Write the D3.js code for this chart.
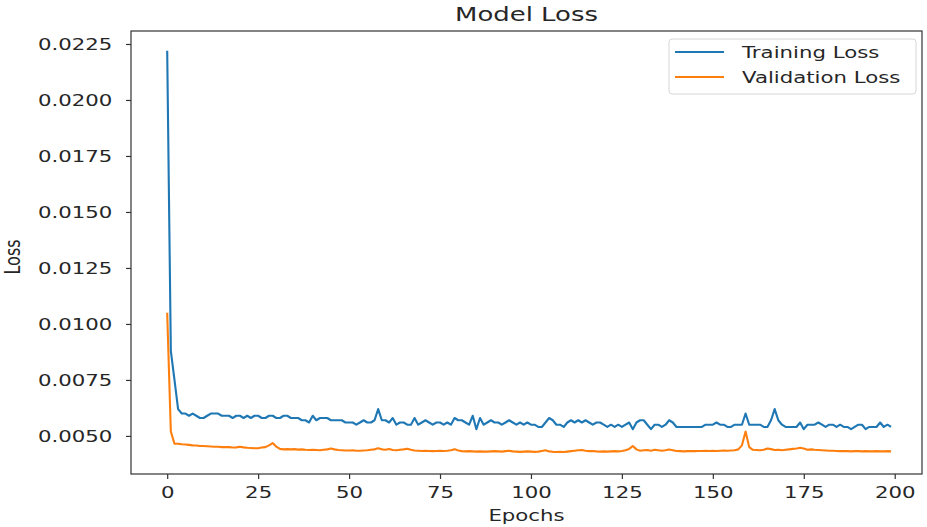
<!DOCTYPE html>
<html>
<head>
<meta charset="utf-8">
<script src="https://cdn.jsdelivr.net/npm/d3@7"></script>
<style>
  body { margin: 0; background: #fff; }
  text { font-family: "DejaVu Sans", sans-serif; fill: #262626; }
</style>
</head>
<body>
<div id="chart"></div>
<script>
// loss per epoch
var trainLoss = [
  0.0222, 0.0088, 0.0075, 0.0062, 0.0060, 0.0060, 0.0059, 0.0060, 0.0059, 0.0058,
  0.0058, 0.0059, 0.0060, 0.0060, 0.0060, 0.0059, 0.0059, 0.0059, 0.0058, 0.0059,
  0.0059, 0.0058, 0.0059, 0.0058, 0.0059, 0.0059, 0.0058, 0.0058, 0.0059, 0.0059,
  0.0058, 0.0058, 0.0059, 0.0059, 0.0058, 0.0058, 0.0058, 0.0057, 0.0057, 0.0056,
  0.0059, 0.0057, 0.0058, 0.0058, 0.0058, 0.0057, 0.0057, 0.0057, 0.0057, 0.0056,
  0.0056, 0.0056, 0.0055, 0.0056, 0.0057, 0.0056, 0.0056, 0.0057, 0.0062, 0.0057,
  0.0057, 0.0056, 0.0058, 0.0055, 0.0056, 0.0056, 0.0055, 0.0055, 0.0058, 0.0055,
  0.0056, 0.0057, 0.0056, 0.0055, 0.0056, 0.0056, 0.0055, 0.0056, 0.0055, 0.0058,
  0.0057, 0.0057, 0.0056, 0.0055, 0.0059, 0.0053, 0.0058, 0.0055, 0.0056, 0.0057,
  0.0056, 0.0056, 0.0055, 0.0056, 0.0057, 0.0056, 0.0055, 0.0056, 0.0055, 0.0056,
  0.0055, 0.0055, 0.0054, 0.0054, 0.0056, 0.0058, 0.0057, 0.0055, 0.0055, 0.0054,
  0.0056, 0.0057, 0.0056, 0.0057, 0.0056, 0.0057, 0.0056, 0.0055, 0.0056, 0.0056,
  0.0055, 0.0054, 0.0055, 0.0054, 0.0055, 0.0054, 0.0055, 0.0056, 0.0053, 0.0056,
  0.0057, 0.0057, 0.0055, 0.0053, 0.0055, 0.0055, 0.0054, 0.0055, 0.0057, 0.0056,
  0.0054, 0.0054, 0.0054, 0.0054, 0.0054, 0.0054, 0.0054, 0.0054, 0.0055, 0.0055,
  0.0055, 0.0056, 0.0055, 0.0055, 0.0054, 0.0054, 0.0055, 0.0055, 0.0055, 0.0060,
  0.0055, 0.0055, 0.0055, 0.0055, 0.0054, 0.0054, 0.0057, 0.0062, 0.0057, 0.0055,
  0.0054, 0.0054, 0.0054, 0.0054, 0.0056, 0.0053, 0.0055, 0.0055, 0.0055, 0.0056,
  0.0055, 0.0054, 0.0055, 0.0055, 0.0054, 0.0055, 0.0054, 0.0054, 0.0053, 0.0054,
  0.0055, 0.0055, 0.0053, 0.0054, 0.0054, 0.0054, 0.0056, 0.0054, 0.0055, 0.0054
];
var valLoss = [
  0.0105, 0.0052, 0.00465, 0.00465, 0.00463, 0.00462, 0.0046, 0.00458, 0.00457, 0.00455,
  0.00455, 0.00454, 0.00453, 0.00452, 0.00452, 0.0045, 0.0045, 0.0045, 0.00448, 0.00449,
  0.00452, 0.00449, 0.00447, 0.00446, 0.00445, 0.00445, 0.00448, 0.0045, 0.00458, 0.00468,
  0.00452, 0.00442, 0.0044, 0.00441, 0.0044, 0.00441, 0.00439, 0.0044, 0.00438, 0.00437,
  0.00438, 0.00437, 0.00436, 0.00438, 0.0044, 0.00444, 0.0044, 0.00437, 0.00436, 0.00435,
  0.00435, 0.00436, 0.00434, 0.00434, 0.00435, 0.00436, 0.00438, 0.0044, 0.00445, 0.0044,
  0.00438, 0.00442, 0.00437, 0.00436, 0.00438, 0.0044, 0.00443, 0.00438, 0.00435, 0.00434,
  0.00433, 0.00434, 0.00433, 0.00432, 0.00433, 0.00434, 0.00433, 0.00434, 0.00436, 0.00441,
  0.00435, 0.00432, 0.00431, 0.00432, 0.00431, 0.0043, 0.00431, 0.0043, 0.0043, 0.00431,
  0.00432, 0.00431, 0.0043, 0.00432, 0.00434, 0.00431, 0.0043, 0.00429, 0.0043, 0.00431,
  0.0043, 0.00429, 0.0043, 0.00433, 0.00436, 0.00431, 0.00429, 0.00428, 0.00429, 0.00428,
  0.0043, 0.00432, 0.00434, 0.00436, 0.00437, 0.00434, 0.00432, 0.00433, 0.00431, 0.0043,
  0.00431, 0.0043, 0.00431, 0.00432, 0.00431, 0.00433, 0.00436, 0.00442, 0.00455, 0.0044,
  0.00434, 0.00436, 0.00437, 0.00434, 0.00438, 0.00436, 0.00434, 0.00436, 0.00439, 0.00436,
  0.00433, 0.00432, 0.00431, 0.00432, 0.00433, 0.00432, 0.00433, 0.00433, 0.00434, 0.00433,
  0.00434, 0.00433, 0.00434, 0.00435, 0.00434, 0.00435, 0.00436, 0.0044, 0.00458, 0.0052,
  0.0045, 0.00438, 0.00437, 0.00436, 0.00438, 0.00444, 0.00441, 0.00437, 0.00438, 0.00436,
  0.00438, 0.0044, 0.00442, 0.00444, 0.00447, 0.00444, 0.00438, 0.0044, 0.00438, 0.00437,
  0.00436, 0.00435, 0.00434, 0.00434, 0.00433, 0.00432, 0.00433, 0.00432, 0.00431, 0.00432,
  0.00432, 0.00431, 0.00432, 0.00431, 0.00431, 0.00432, 0.00431, 0.00431, 0.00432, 0.00431
];
var xTicks = [0, 25, 50, 75, 100, 125, 150, 175, 200];
var yTicks = [0.0050, 0.0075, 0.0100, 0.0125, 0.0150, 0.0175, 0.0200, 0.0225];
var seriesNames = ["Training Loss", "Validation Loss"];
var seriesColors = ["#1f77b4", "#ff7f0e"];

var W = 927, H = 527;
var margin = {top: 31, right: 5, bottom: 53, left: 131};
var stretch = 1.33; // the picture is squeezed wider than tall

var svg = d3.select("#chart").append("svg")
    .attr("width", W)
    .attr("height", H);

var x = d3.scaleLinear().domain([-9.95, 207.5]).range([margin.left, W - margin.right]);
var y = d3.scaleLinear().domain([0.0033, 0.02308]).range([H - margin.bottom, margin.top]);

// axes
var xAxis = svg.append("g")
    .attr("transform", "translate(0," + (H - margin.bottom) + ")")
    .call(d3.axisBottom(x).tickValues(xTicks).tickSize(5).tickPadding(8).tickFormat(d3.format("d")));
var yAxis = svg.append("g")
    .attr("transform", "translate(" + margin.left + ",0)")
    .call(d3.axisLeft(y).tickValues(yTicks).tickSize(5).tickPadding(9).tickFormat(d3.format(".4f")));

[xAxis, yAxis].forEach(function(a) {
  a.select(".domain").remove();
  a.selectAll(".tick line").attr("stroke", "#333").attr("stroke-width", 1.2);
  a.selectAll(".tick text")
      .attr("font-size", 16)
      .attr("font-family", "DejaVu Sans")
      .attr("fill", "#262626")
      .attr("transform", "scale(" + stretch + ",1)");
});

// frame
svg.append("rect")
    .attr("x", margin.left)
    .attr("y", margin.top)
    .attr("width", W - margin.right - margin.left)
    .attr("height", H - margin.bottom - margin.top)
    .attr("fill", "none")
    .attr("stroke", "#333")
    .attr("stroke-width", 1.2);

// lines
var line = d3.line()
    .x(function(d, i) { return x(i); })
    .y(function(d) { return y(d); });

[trainLoss, valLoss].forEach(function(s, k) {
  svg.append("path")
      .datum(s)
      .attr("fill", "none")
      .attr("stroke", seriesColors[k])
      .attr("stroke-width", 2.1)
      .attr("stroke-linejoin", "round")
      .attr("d", line);
});

// title + labels
svg.append("g")
    .attr("transform", "translate(" + ((margin.left + W - margin.right) / 2) + ",21)")
  .append("text")
    .attr("text-anchor", "middle")
    .attr("font-size", 19.5)
    .attr("transform", "scale(" + stretch + ",1)")
    .text("Model Loss");

svg.append("g")
    .attr("transform", "translate(" + ((margin.left + W - margin.right) / 2) + ",521)")
  .append("text")
    .attr("text-anchor", "middle")
    .attr("font-size", 16)
    .attr("transform", "scale(" + stretch + ",1)")
    .text("Epochs");

svg.append("text")
    .attr("transform", "translate(20,257) rotate(-90) scale(1," + stretch + ")")
    .attr("text-anchor", "middle")
    .attr("font-family", "Liberation Sans Narrow, Liberation Sans, sans-serif")
    .attr("font-size", 16)
    .text("Loss");

// legend
var legend = svg.append("g").attr("transform", "translate(669,39)");
legend.append("rect")
    .attr("width", 247)
    .attr("height", 55)
    .attr("rx", 3)
    .attr("fill", "#fff")
    .attr("fill-opacity", 0.8)
    .attr("stroke", "#d6d6d6");

seriesNames.forEach(function(name, k) {
  var ly = 13 + k * 25;
  legend.append("line")
      .attr("x1", 6).attr("x2", 55)
      .attr("y1", ly).attr("y2", ly)
      .attr("stroke", seriesColors[k])
      .attr("stroke-width", 2);
  legend.append("g")
      .attr("transform", "translate(73," + (ly + 6) + ")")
    .append("text")
      .attr("font-size", 16)
      .attr("transform", "scale(" + stretch + ",1)")
      .text(name);
});
</script>
</body>
</html>
